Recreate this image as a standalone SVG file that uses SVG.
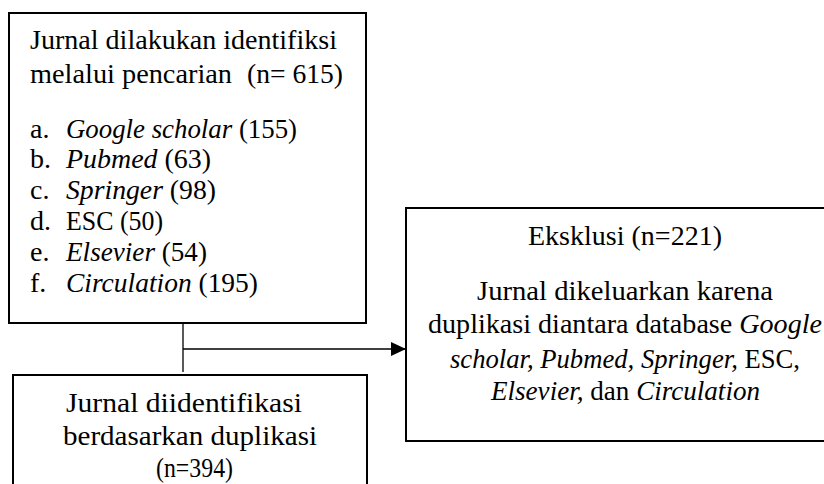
<svg xmlns="http://www.w3.org/2000/svg" width="824" height="484" viewBox="0 0 824 484">
<defs>
<style>
.box{fill:#fff;stroke:#000;stroke-width:2}
.t{font-family:"Liberation Serif","Times New Roman",serif;font-size:28px;fill:#000}
.i{font-style:italic}
.c{stroke:#000;stroke-width:1.3;fill:none}
</style>
<marker id="arr" markerUnits="userSpaceOnUse" markerWidth="16" markerHeight="16" refX="15" refY="7" orient="auto">
<path d="M0,0 L15,7 L0,14 Z" fill="#000"/>
</marker>
</defs>
<rect width="824" height="484" fill="#fff"/>
<g id="connectors">
<line class="c" x1="183" y1="323" x2="183" y2="372"/>
<line class="c" x1="183" y1="349" x2="406" y2="349" marker-end="url(#arr)"/>
</g>
<g id="node-identifikasi">
<rect class="box" x="9" y="13" width="357" height="310"/>
<text class="t" x="30" y="49" textLength="307" lengthAdjust="spacingAndGlyphs">Jurnal dilakukan identifiksi</text>
<text class="t" x="30" y="83" textLength="202" lengthAdjust="spacingAndGlyphs">melalui pencarian</text>
<text class="t" x="247" y="83" textLength="96" lengthAdjust="spacingAndGlyphs">(n= 615)</text>
<text class="t" x="30" y="138">a.</text>
<text class="t" x="66" y="138" textLength="231" lengthAdjust="spacingAndGlyphs"><tspan class="i">Google scholar</tspan> (155)</text>
<text class="t" x="30" y="168">b.</text>
<text class="t" x="66" y="168" textLength="145" lengthAdjust="spacingAndGlyphs"><tspan class="i">Pubmed</tspan> (63)</text>
<text class="t" x="30" y="199">c.</text>
<text class="t" x="66" y="199" textLength="150" lengthAdjust="spacingAndGlyphs"><tspan class="i">Springer</tspan> (98)</text>
<text class="t" x="30" y="230">d.</text>
<text class="t" x="66" y="230" textLength="97" lengthAdjust="spacingAndGlyphs">ESC (50)</text>
<text class="t" x="30" y="261">e.</text>
<text class="t" x="66" y="261" textLength="141" lengthAdjust="spacingAndGlyphs"><tspan class="i">Elsevier</tspan> (54)</text>
<text class="t" x="30" y="292">f.</text>
<text class="t" x="66" y="292" textLength="192" lengthAdjust="spacingAndGlyphs"><tspan class="i">Circulation</tspan> (195)</text>
</g>
<g id="node-eksklusi">
<rect class="box" x="406" y="208" width="440" height="233"/>
<text class="t" x="528" y="245" textLength="194" lengthAdjust="spacingAndGlyphs">Eksklusi (n=221)</text>
<text class="t" x="477" y="300" textLength="296" lengthAdjust="spacingAndGlyphs">Jurnal dikeluarkan karena</text>
<text class="t" x="428" y="333" textLength="394" lengthAdjust="spacingAndGlyphs">duplikasi diantara database <tspan class="i">Google</tspan></text>
<text class="t" x="450" y="368" textLength="350" lengthAdjust="spacingAndGlyphs"><tspan class="i">scholar, Pubmed, Springer,</tspan> ESC,</text>
<text class="t" x="491" y="400" textLength="269" lengthAdjust="spacingAndGlyphs"><tspan class="i">Elsevier,</tspan> dan <tspan class="i">Circulation</tspan></text>
</g>
<g id="node-duplikasi">
<rect class="box" x="13" y="375" width="354" height="130"/>
<text class="t" x="66" y="412" textLength="236" lengthAdjust="spacingAndGlyphs">Jurnal diidentifikasi</text>
<text class="t" x="63" y="445" textLength="254" lengthAdjust="spacingAndGlyphs">berdasarkan duplikasi</text>
<text class="t" x="156" y="477" textLength="77" lengthAdjust="spacingAndGlyphs">(n=394)</text>
</g>
</svg>
